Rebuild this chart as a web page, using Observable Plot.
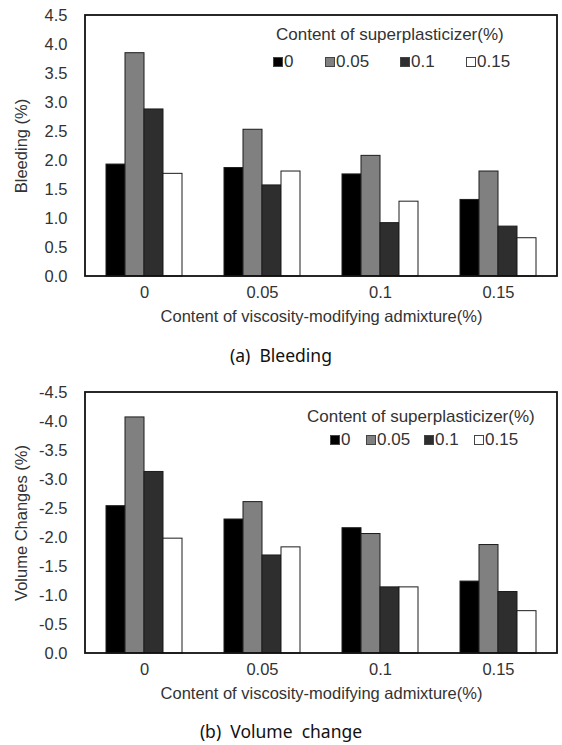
<!DOCTYPE html>
<html><head><meta charset="utf-8">
<script src="https://cdn.jsdelivr.net/npm/d3@7"></script>
<script src="https://cdn.jsdelivr.net/npm/@observablehq/plot@0.6"></script>
<style>
body{margin:0;background:#fff;}
#root{position:relative;width:562px;height:745px;font-family:"Liberation Sans",Arial,sans-serif;color:#333;background:#fff;}
.panel{position:absolute;left:0;}
.lt{position:absolute;font-size:17px;line-height:18px;color:#333;white-space:nowrap;}
.sw{position:absolute;width:10px;height:10px;border:1px solid #444;box-sizing:border-box;}
.cap{position:absolute;left:0;width:562px;text-align:center;font-family:"Noto Sans",sans-serif;font-size:17.5px;line-height:20px;color:#111;white-space:pre;}
</style></head><body><div id="root"></div>
<script>
// categories
const admixture = ["0", "0.05", "0.1", "0.15"];          // x groups: viscosity-modifying admixture (%)
const superplasticizer = ["0", "0.05", "0.1", "0.15"];   // series: superplasticizer (%)
const seriesColors = ["#000000", "#808080", "#2e2e2e", "#ffffff"];
// tick labels
const yTicksBleeding = [0, 0.5, 1, 1.5, 2, 2.5, 3, 3.5, 4, 4.5];
const yTicksVolume = [0, -0.5, -1, -1.5, -2, -2.5, -3, -3.5, -4, -4.5];
// (a) Bleeding (%), one array per superplasticizer content, over admixture groups
const bleedSP0 = [1.93, 1.87, 1.76, 1.32];
const bleedSP005 = [3.85, 2.53, 2.08, 1.81];
const bleedSP01 = [2.88, 1.57, 0.92, 0.86];
const bleedSP015 = [1.77, 1.81, 1.29, 0.66];
// (b) Volume changes (%)
const volSP0 = [-2.54, -2.31, -2.16, -1.24];
const volSP005 = [-4.07, -2.61, -2.06, -1.87];
const volSP01 = [-3.13, -1.69, -1.14, -1.06];
const volSP015 = [-1.98, -1.83, -1.14, -0.73];

const root = document.getElementById("root");

function makePanel(seriesArrays, yDomain, yTicks, yLabel) {
  const rows = [];
  seriesArrays.forEach((arr, si) => arr.forEach((v, gi) =>
    rows.push({group: admixture[gi], series: superplasticizer[si], value: v})));
  const chart = Plot.plot({
    width: 562, height: 330,
    marginLeft: 85, marginRight: 5, marginTop: 15, marginBottom: 54,
    style: {fontFamily: '"Liberation Sans", Arial, sans-serif', fontSize: "16.5px", color: "#333", background: "white", overflow: "visible"},
    fx: {domain: admixture, paddingInner: 0, paddingOuter: 0, label: null},
    x: {domain: superplasticizer, paddingInner: 0, paddingOuter: 1.03, axis: null},
    y: {domain: yDomain, label: null},
    color: {domain: superplasticizer, range: seriesColors},
    marks: [
      Plot.barY(rows, {fx: "group", x: "series", y: "value", fill: "series", stroke: "#1c1c1c", strokeWidth: 1}),
      Plot.axisY({ticks: yTicks, tickFormat: d => d.toFixed(1), tickSize: 0, tickPadding: 18, label: yLabel, labelAnchor: "center", labelOffset: 70, labelArrow: "none"}),
      Plot.axisFx({anchor: "bottom", tickSize: 0, tickPadding: 10, label: "Content of viscosity-modifying admixture(%)", labelAnchor: "center", labelOffset: 45})
    ]
  });
  // plot-area border, placed from the library's own scales
  const fx = chart.scale("fx"), y = chart.scale("y");
  const [x0, x1] = fx.range, [yb, yt] = y.range;
  d3.select(chart).append("rect")
    .attr("x", Math.min(x0, x1)).attr("y", Math.min(yb, yt))
    .attr("width", Math.abs(x1 - x0)).attr("height", Math.abs(yb - yt))
    .attr("fill", "none").attr("stroke", "#111").attr("stroke-width", 1.8);
  return chart;
}

function addLegend(top, titleLeft, titleY, rowY, swLefts) {
  const t = document.createElement("div");
  t.className = "lt"; t.textContent = "Content of superplasticizer(%)";
  t.style.left = titleLeft + "px"; t.style.top = (top + titleY - 9) + "px";
  root.appendChild(t);
  superplasticizer.forEach((s, i) => {
    const sw = document.createElement("div");
    sw.className = "sw"; sw.style.background = seriesColors[i];
    sw.style.left = swLefts[i] + "px"; sw.style.top = (top + rowY - 5) + "px";
    root.appendChild(sw);
    const lab = document.createElement("div");
    lab.className = "lt"; lab.textContent = s;
    lab.style.left = (swLefts[i] + 11) + "px"; lab.style.top = (top + rowY - 9) + "px";
    root.appendChild(lab);
  });
}

function addCaption(text, cy) {
  const c = document.createElement("div");
  c.className = "cap"; c.textContent = text; c.style.top = (cy - 10) + "px";
  root.appendChild(c);
}

const pa = makePanel([bleedSP0, bleedSP005, bleedSP01, bleedSP015], [0, 4.5], yTicksBleeding, "Bleeding (%)");
pa.classList.add("panel"); pa.style.top = "0px"; root.appendChild(pa);
addLegend(0, 276, 35, 62, [273, 325, 400, 466]);
addCaption("(a)  Bleeding", 355);

const pb = makePanel([volSP0, volSP005, volSP01, volSP015], [0, -4.5], yTicksVolume, "Volume Changes (%)");
pb.classList.add("panel"); pb.style.top = "377px"; root.appendChild(pb);
addLegend(377, 307, 40, 63, [330, 366, 424, 474]);
addCaption("(b)  Volume  change", 731);
</script></body></html>
